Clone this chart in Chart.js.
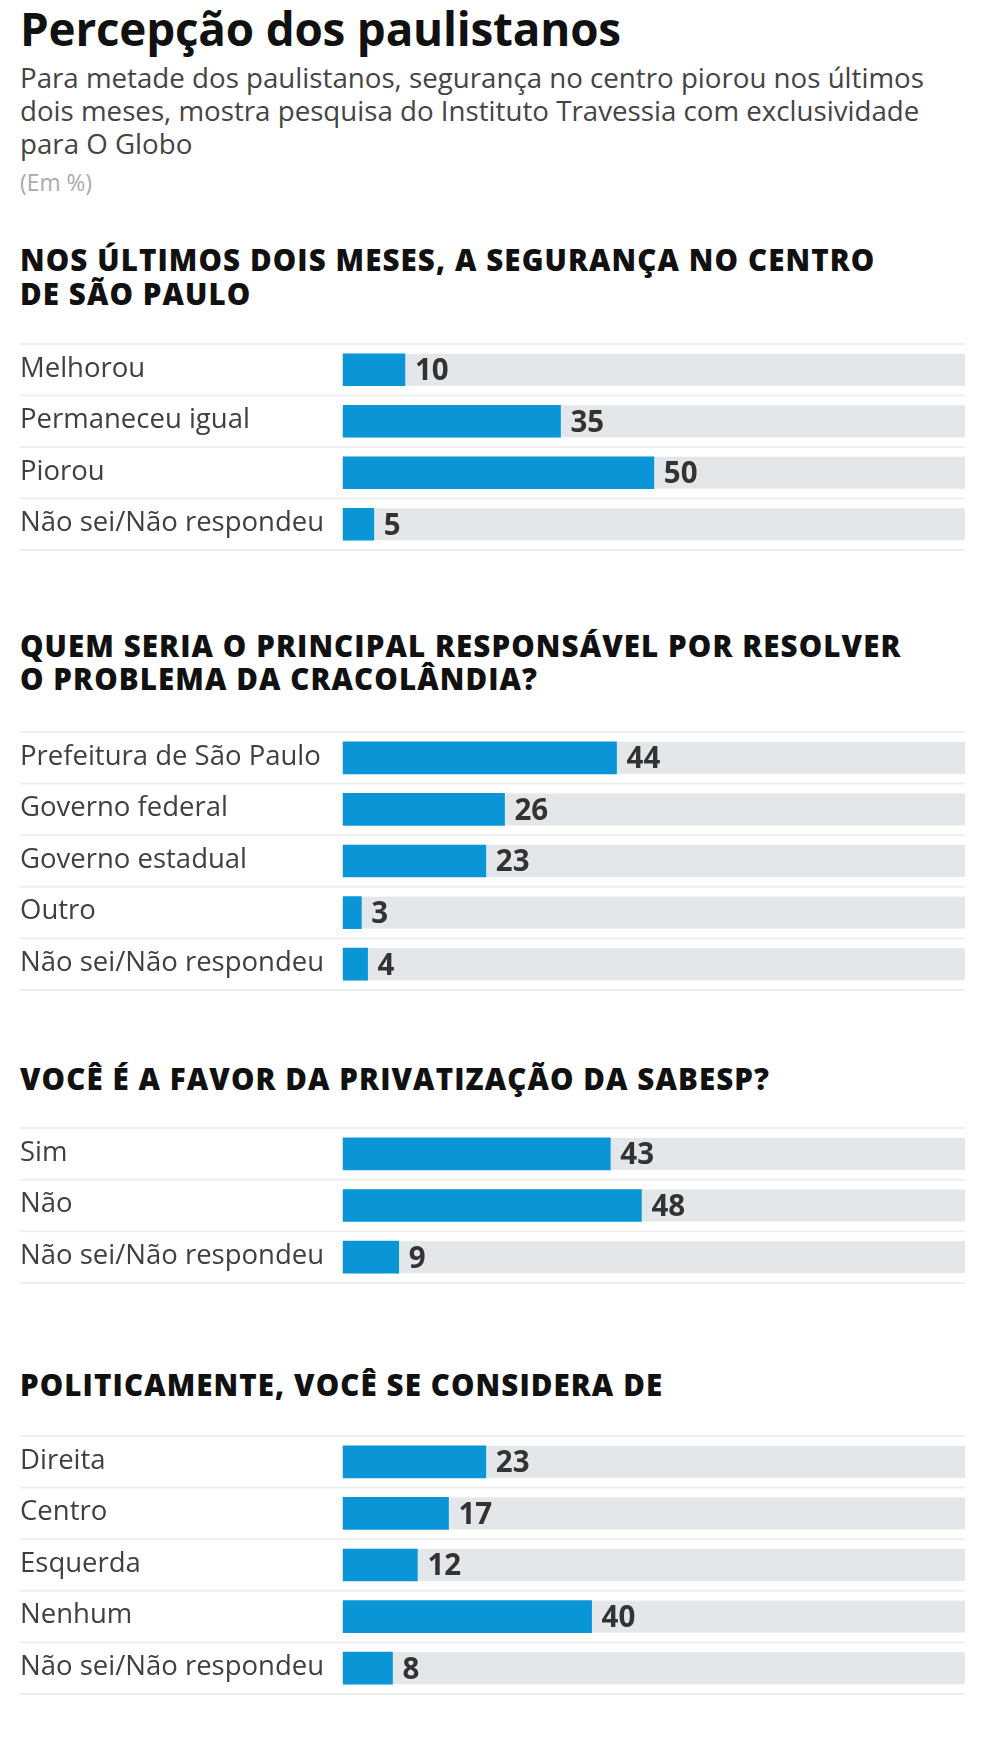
<!DOCTYPE html>
<html><head><meta charset="utf-8">
<script src="https://cdn.jsdelivr.net/npm/chart.js@4.4.1/dist/chart.umd.min.js"></script>
<style>
html,body{margin:0;padding:0;background:#fff;}
body{width:984px;height:1738px;position:relative;overflow:hidden;font-family:"Open Sans",sans-serif;}
.t{position:absolute;left:20px;white-space:nowrap;line-height:0;height:0;}
.title{font-weight:700;font-size:45.8px;color:#111;letter-spacing:-0.2px;}
.sub{font-weight:400;font-size:27.7px;color:#444;}
.unit{font-weight:400;font-size:22.8px;color:#aaa;}
.head{font-weight:800;font-size:29.5px;color:#111;letter-spacing:1.1px;}
canvas{position:absolute;left:0;}
</style></head><body>
<div class="t title" id="title">Percepção dos paulistanos</div>
<div class="t sub" id="s1">Para metade dos paulistanos, segurança no centro piorou nos últimos</div>
<div class="t sub" id="s2">dois meses, mostra pesquisa do Instituto Travessia com exclusividade</div>
<div class="t sub" id="s3">para O Globo</div>
<div class="t unit" id="unit">(Em %)</div>
<div class="t head" id="h1a">NOS ÚLTIMOS DOIS MESES, A SEGURANÇA NO CENTRO</div>
<div class="t head" id="h1b">DE SÃO PAULO</div>
<div class="t head" id="h2a">QUEM SERIA O PRINCIPAL RESPONSÁVEL POR RESOLVER</div>
<div class="t head" id="h2b">O PROBLEMA DA CRACOLÂNDIA?</div>
<div class="t head" id="h3a">VOCÊ É A FAVOR DA PRIVATIZAÇÃO DA SABESP?</div>
<div class="t head" id="h4a">POLITICAMENTE, VOCÊ SE CONSIDERA DE</div>
<canvas id="c1"></canvas>
<canvas id="c2"></canvas>
<canvas id="c3"></canvas>
<canvas id="c4"></canvas>
<script>
// ---- data ----
const cats1 = ["Melhorou", "Permaneceu igual", "Piorou", "Não sei/Não respondeu"];
const vals1 = [10, 35, 50, 5];
const cats2 = ["Prefeitura de São Paulo", "Governo federal", "Governo estadual", "Outro", "Não sei/Não respondeu"];
const vals2 = [44, 26, 23, 3, 4];
const cats3 = ["Sim", "Não", "Não sei/Não respondeu"];
const vals3 = [43, 48, 9];
const cats4 = ["Direita", "Centro", "Esquerda", "Nenhum", "Não sei/Não respondeu"];
const vals4 = [23, 17, 12, 40, 8];
const axisMin = 0;
const axisMax = 100;

// ---- layout ----
const ROW = 51.6;
const PAD = 3;
function placeText(id, baseline, size) {
  const el = document.getElementById(id);
  el.style.top = (baseline - 0.388 * size) + 'px';
}
placeText('title', 46, 45.8);
placeText('s1', 88, 27.7); placeText('s2', 121, 27.7); placeText('s3', 154, 27.7);
placeText('unit', 192, 22.8);
placeText('h1a', 271, 29.5); placeText('h1b', 305, 29.5);
placeText('h2a', 657, 29.5); placeText('h2b', 690, 29.5);
placeText('h3a', 1090, 29.5);
placeText('h4a', 1396, 29.5);

const trackPlugin = {
  id: 'track',
  beforeDatasetsDraw(chart) {
    const ctx = chart.ctx, xs = chart.scales.x, ys = chart.scales.y;
    const meta = chart.getDatasetMeta(0);
    const n = chart.data.labels.length;
    const step = n > 1 ? ys.getPixelForValue(1) - ys.getPixelForValue(0) : ROW;
    ctx.save();
    ctx.strokeStyle = '#eeeeee';
    ctx.lineWidth = 2;
    for (let i = 0; i <= n; i++) {
      const y = ys.getPixelForValue(i) - step / 2;
      ctx.beginPath(); ctx.moveTo(20, y); ctx.lineTo(xs.getPixelForValue(axisMax), y); ctx.stroke();
    }
    ctx.fillStyle = '#e3e7ea';
    const x0 = xs.getPixelForValue(axisMin), x1 = xs.getPixelForValue(axisMax);
    meta.data.forEach(b => {
      ctx.fillRect(x0, b.y - b.height / 2, x1 - x0, b.height);
    });
    ctx.restore();
  },
  afterDatasetsDraw(chart) {
    const ctx = chart.ctx;
    const meta = chart.getDatasetMeta(0);
    const data = chart.data.datasets[0].data;
    ctx.save();
    ctx.font = 'bold 29.5px "Open Sans"';
    ctx.fillStyle = '#333333';
    ctx.textAlign = 'left';
    ctx.textBaseline = 'middle';
    meta.data.forEach((b, i) => {
      ctx.fillText(String(data[i]), b.x + 10, b.y + 2);
    });
    ctx.restore();
  }
};

function makeChart(id, cats, vals, sepTop) {
  const cv = document.getElementById(id);
  const h = Math.round(cats.length * ROW + 2 * PAD);
  cv.width = 984; cv.height = h;
  cv.style.width = '984px'; cv.style.height = h + 'px';
  cv.style.top = (sepTop - PAD) + 'px';
  new Chart(cv, {
    type: 'bar',
    data: { labels: cats, datasets: [{ data: vals, backgroundColor: '#0a96d6', borderWidth: 0, barThickness: 32 }] },
    options: {
      indexAxis: 'y',
      responsive: false,
      animation: false,
      devicePixelRatio: 1,
      layout: { padding: { left: 20, right: 19, top: PAD, bottom: PAD } },
      plugins: { legend: { display: false }, tooltip: { enabled: false }, title: { display: false } },
      scales: {
        x: { display: false, min: axisMin, max: axisMax },
        y: {
          display: true,
          grid: { display: false, drawTicks: false },
          border: { display: false },
          afterFit(scale) { scale.width = 322.7; scale.paddingTop = 0; scale.paddingBottom = 0; },
          ticks: {
            autoSkip: false,
            crossAlign: 'far',
            padding: 0,
            labelOffset: -1,
            color: '#404040',
            font: { family: '"Open Sans"', size: 27.5, weight: '400' }
          }
        }
      }
    },
    plugins: [trackPlugin]
  });
}

function go() {
  makeChart('c1', cats1, vals1, 344);
  makeChart('c2', cats2, vals2, 732);
  makeChart('c3', cats3, vals3, 1128);
  makeChart('c4', cats4, vals4, 1436);
}
Promise.all([
  document.fonts.load('400 27px "Open Sans"'),
  document.fonts.load('700 29px "Open Sans"'),
  document.fonts.load('800 29px "Open Sans"')
]).then(go, go);
</script>
</body></html>
